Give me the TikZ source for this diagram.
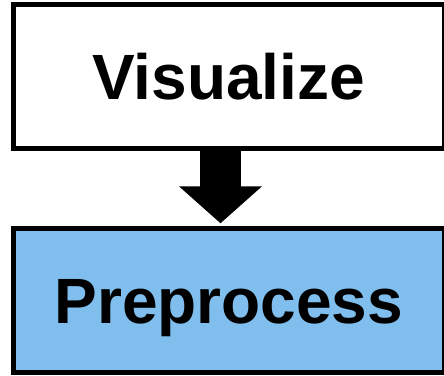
\documentclass[tikz,border=0pt]{standalone}
\usepackage{fontspec}
\setmainfont{Liberation Sans}
\usetikzlibrary{arrows.meta}
\definecolor{boxblue}{RGB}{128,190,237}
\begin{document}
\begin{tikzpicture}[x=1pt,y=-1pt,
  stagebox/.style={draw=black, line width=5pt, minimum width=431.5pt, minimum height=144pt,
    inner sep=0pt, font=\fontsize{64}{70}\selectfont\bfseries, text height=46pt, text depth=0pt},
  bigarrow/.style={line width=41pt, -{Triangle[length=37pt,width=81pt]}}]
\useasboundingbox (0,0) rectangle (444,375);
\node[stagebox, fill=white] (vis) at (228.75,76.5) {Visualize};
\node[stagebox, fill=boxblue] (pre) at (228.75,300.75) {Preprocess};
\coordinate (tip) at (220.5,223.3);
\draw[bigarrow] (vis.south -| tip) -- (tip);
\end{tikzpicture}
\end{document}
